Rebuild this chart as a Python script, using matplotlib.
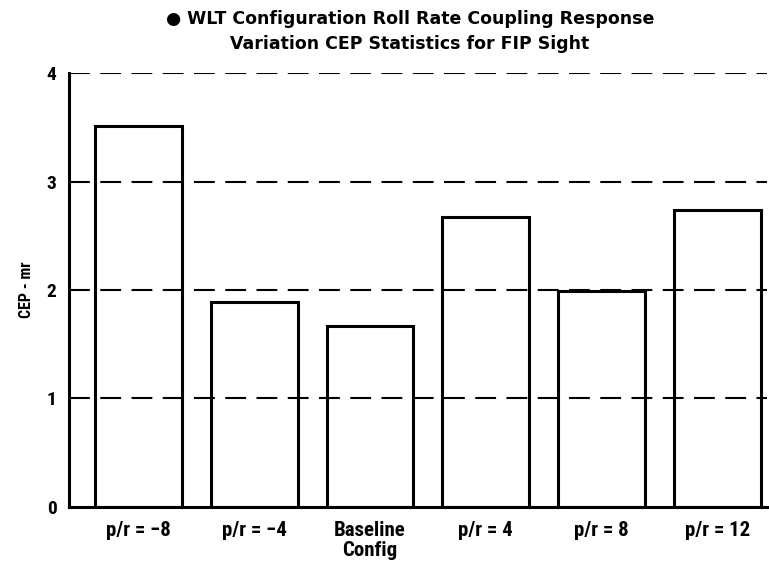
import matplotlib.pyplot as plt

# bar categories and CEP values
labels = ['p/r = \u22128', 'p/r = \u22124', 'Baseline\nConfig', 'p/r = 4', 'p/r = 8', 'p/r = 12']
cep = [3.51, 1.89, 1.67, 2.67, 1.99, 2.74]
yticks = [0, 1, 2, 3, 4]

plt.rcParams['font.family'] = ['Roboto Condensed', 'DejaVu Sans']

fig = plt.figure(figsize=(7.69, 5.63), dpi=100)
ax = fig.add_axes([0.0897, 0.0995, 0.908, 0.7708])

x = range(len(cep))
ax.bar(x, cep, width=0.75, fill=False, edgecolor='black', linewidth=2.2, zorder=3)

for v in yticks[1:]:
    ax.axhline(v, color='black', lw=1.5, ls=(0, (10, 5)), zorder=1)

ax.set_xlim(-0.6, 5.43)
ax.set_ylim(0, 4)
ax.set_yticks(yticks)
ax.set_xticks(list(x))
ax.set_xticklabels(labels, fontsize=15, fontweight='bold', linespacing=1.05)
ax.set_yticklabels([str(t) for t in yticks], fontsize=14, fontweight='bold')
ax.tick_params(axis='x', length=0, pad=10)
ax.tick_params(axis='y', length=0, pad=9)
ax.set_ylabel('CEP - mr', fontsize=11.5, fontweight='bold', labelpad=9)

for spine in ('top', 'right'):
    ax.spines[spine].set_visible(False)
for spine in ('left', 'bottom'):
    ax.spines[spine].set_linewidth(2.2)

fig.text(0.533, 0.983, '\u25cf WLT Configuration Roll Rate Coupling Response\nVariation CEP Statistics for FIP Sight',
         ha='center', va='top', fontsize=12.5, fontweight='bold', linespacing=1.55,
         family='DejaVu Sans')

fig.savefig('out.png', dpi=100)
